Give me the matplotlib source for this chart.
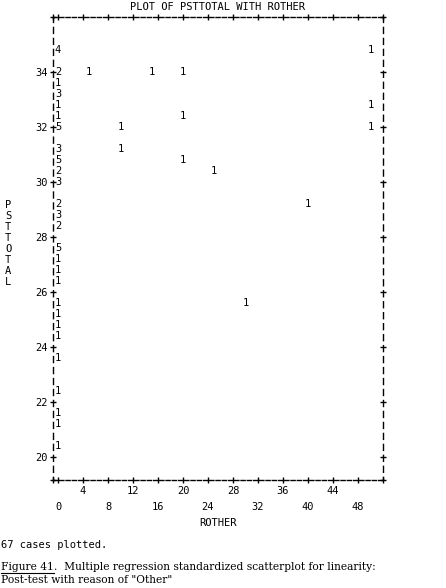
#SPSS text-style scatterplot: PSTTOTAL vs ROTHER

import matplotlib.pyplot as plt
from matplotlib.lines import Line2D

plt.rcParams['lines.scale_dashes'] = False

# one entry per occupied cell: ROTHER value, PSTTOTAL row, number of cases
pt_x = [0, 0, 0, 0, 0, 0, 0, 0, 0, 0, 0, 0, 0, 0,
        0, 0, 0, 0, 0, 0, 0, 0, 0, 0, 0, 0, 0,
        50, 5, 15, 20, 50, 20, 10, 50, 10, 20, 25, 40, 30]
pt_y = [34.8, 34.0, 33.6, 33.2, 32.8, 32.4, 32.0, 31.2, 30.8, 30.4, 30.0, 29.2, 28.8, 28.4,
        27.6, 27.2, 26.8, 26.4, 25.6, 25.2, 24.8, 24.4, 23.6, 22.4, 21.6, 21.2, 20.4,
        34.8, 34.0, 34.0, 34.0, 32.8, 32.4, 32.0, 32.0, 31.2, 30.8, 30.4, 29.2, 25.6]
pt_n = [4, 2, 1, 3, 1, 1, 5, 3, 5, 2, 3, 2, 3, 2,
        5, 1, 1, 1, 1, 1, 1, 1, 1, 1, 1, 1, 1,
        1, 1, 1, 1, 1, 1, 1, 1, 1, 1, 1, 1, 1]

y_ticks = [20, 22, 24, 26, 28, 30, 32, 34]
x_major = [0, 8, 16, 24, 32, 40, 48]
x_minor = [4, 12, 20, 28, 36, 44]

mono = 'DejaVu Sans Mono'
fs = 7.5
W, H = 446, 588

fig = plt.figure(figsize=(W / 100, H / 100), dpi=100)
ax = fig.add_axes([53 / W, 108 / H, 330 / W, 463 / H])
ax.set_xlim(-0.8, 52)
ax.set_ylim(19.16, 36)

for x, y, n in zip(pt_x, pt_y, pt_n):
    ax.text(x, y, str(n), ha='center', va='center', fontfamily=mono, fontsize=fs)

# dashed border like the ascii frame
for side in ['left', 'right']:
    ax.spines[side].set_linestyle((2, (4.3, 3.6)))
    ax.spines[side].set_linewidth(1)
for side in ['top', 'bottom']:
    ax.spines[side].set_linestyle((0, (3, 1.5)))
    ax.spines[side].set_linewidth(1)

ax.set_yticks(y_ticks)
ax.set_yticklabels([str(v) for v in y_ticks], fontfamily=mono, fontsize=fs)
ax.set_xticks(x_major)
ax.set_xticklabels([str(v) for v in x_major], fontfamily=mono, fontsize=fs)
ax.set_xticks(x_minor, minor=True)
ax.set_xticklabels([str(v) for v in x_minor], minor=True, fontfamily=mono, fontsize=fs)

ax.tick_params(axis='y', which='major', direction='inout', length=5, width=1,
               left=True, right=True, pad=1)
ax.tick_params(axis='x', which='major', direction='inout', length=5, width=1,
               top=True, bottom=True, pad=13)
ax.tick_params(axis='x', which='minor', direction='inout', length=5, width=1,
               top=True, bottom=True, pad=2)

# corner pluses
ax.plot([0, 1, 0, 1], [0, 0, 1, 1], '+', color='black', markersize=5, mew=1,
        transform=ax.transAxes, clip_on=False)

ax.set_title('PLOT OF PSTTOTAL WITH ROTHER', fontfamily=mono, fontsize=fs, pad=5)
ax.set_xlabel('ROTHER', fontfamily=mono, fontsize=fs, va='center')
ax.xaxis.set_label_coords(0.5, (588 - 523 - 108) / 463)

for i, ch in enumerate('PSTTOTAL'):
    fig.text(8 / W, 1 - (205 + 11 * i) / H, ch, ha='center', va='center',
             fontfamily=mono, fontsize=fs)

fig.text(1 / W, 1 - 545 / H, '67 cases plotted.', va='center', fontfamily=mono, fontsize=fs)

# caption with underlined figure number
serif = 'DejaVu Serif'
cap_fs = 7.7
renderer = fig.canvas.get_renderer()
t1 = fig.text(1 / W, 1 - 570 / H, 'Figure 41', fontfamily=serif, fontsize=cap_fs)
bb = t1.get_window_extent(renderer)
fig.text(bb.x1 / W, 1 - 570 / H, '.  Multiple regression standardized scatterplot for linearity:',
         fontfamily=serif, fontsize=cap_fs)
fig.add_artist(Line2D([bb.x0 / W, bb.x1 / W], [(H - 572.5) / H, (H - 572.5) / H],
                      color='black', linewidth=0.8, transform=fig.transFigure))
fig.text(1 / W, 1 - 583 / H, 'Post-test with reason of "Other"', fontfamily=serif, fontsize=cap_fs)

fig.savefig('out.png', dpi=100)
